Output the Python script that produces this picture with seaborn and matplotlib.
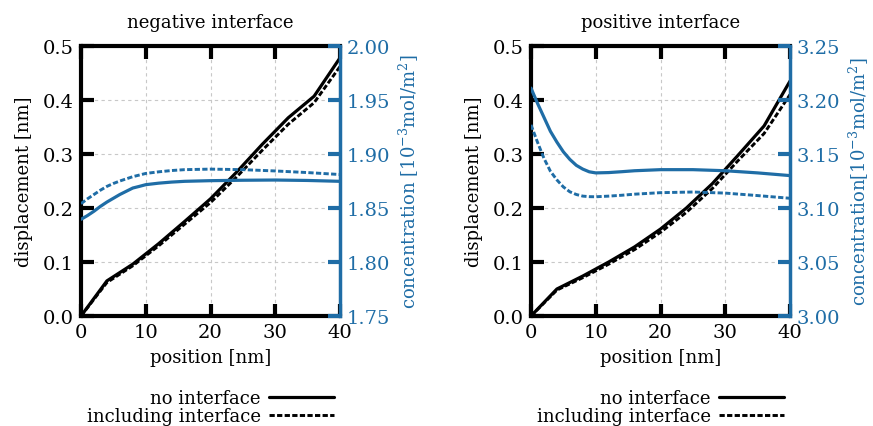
import matplotlib
matplotlib.use("Agg")
import matplotlib.pyplot as plt
import seaborn as sns
from matplotlib.lines import Line2D

sns.set_theme(style="white")
plt.rcParams['font.family'] = ['DejaVu Serif']
plt.rcParams['mathtext.fontset'] = 'dejavuserif'
plt.rcParams['text.color'] = 'black'
plt.rcParams['axes.labelcolor'] = 'black'
plt.rcParams['xtick.color'] = 'black'
plt.rcParams['ytick.color'] = 'black'

BLUE = "#1f6da6"

# displacement data
x_disp = [0, 4, 8, 12, 16, 20, 24, 28, 32, 36, 40]
neg_disp_no = [0, 0.065, 0.096, 0.134, 0.175, 0.217, 0.266, 0.318, 0.367, 0.407, 0.478]
neg_disp_inc = [0, 0.062, 0.093, 0.130, 0.170, 0.210, 0.257, 0.307, 0.355, 0.395, 0.462]
pos_disp_no = [0, 0.050, 0.074, 0.100, 0.128, 0.161, 0.200, 0.245, 0.298, 0.352, 0.435]
pos_disp_inc = [0, 0.048, 0.071, 0.096, 0.123, 0.155, 0.192, 0.236, 0.288, 0.338, 0.410]

# concentration data
x_conc = [0, 1, 2, 3, 4, 5, 6, 7, 8, 9, 10, 12, 14, 16, 20, 25, 30, 35, 40]
neg_conc_no = [1.8395, 1.843, 1.847, 1.8515, 1.8555, 1.859, 1.8625, 1.8655, 1.8685, 1.870,
               1.8716, 1.873, 1.874, 1.8747, 1.8753, 1.8757, 1.8759, 1.8755, 1.8747]
neg_conc_inc = [1.854, 1.8585, 1.8625, 1.8665, 1.870, 1.8727, 1.875, 1.877, 1.879, 1.8805,
                1.882, 1.8835, 1.8847, 1.8855, 1.886, 1.8855, 1.8843, 1.8828, 1.881]
pos_conc_no = [3.211, 3.197, 3.184, 3.171, 3.161, 3.152, 3.145, 3.1395, 3.136, 3.1335,
               3.1325, 3.1328, 3.1336, 3.1345, 3.1355, 3.1355, 3.1345, 3.1325, 3.130]
pos_conc_inc = [3.177, 3.161, 3.146, 3.134, 3.126, 3.1195, 3.115, 3.1125, 3.111, 3.1105,
                3.1104, 3.111, 3.1118, 3.1128, 3.1142, 3.1148, 3.1138, 3.1115, 3.109]

titles = ["negative interface", "positive interface"]
x_ticks = [0, 10, 20, 30, 40]
disp_ticks = [0.0, 0.1, 0.2, 0.3, 0.4, 0.5]
neg_conc_ticks = [1.75, 1.80, 1.85, 1.90, 1.95, 2.00]
pos_conc_ticks = [3.00, 3.05, 3.10, 3.15, 3.20, 3.25]
conc_labels = [r"concentration $[10^{-3}\mathrm{mol/m^2}]$",
               r"concentration$[10^{-3}\mathrm{mol/m^2}]$"]
legend_labels = ["no interface", "including interface"]

W, H = 873, 427
fig = plt.figure(figsize=(W / 100, H / 100), dpi=100)

panels = [
    (81, neg_disp_no, neg_disp_inc, neg_conc_no, neg_conc_inc, neg_conc_ticks),
    (531, pos_disp_no, pos_disp_inc, pos_conc_no, pos_conc_inc, pos_conc_ticks),
]
DASH = (0, (1.8, 0.8))
FS_T = 14
FS = 13
for i, (left_px, dno, dinc, cno, cinc, cticks) in enumerate(panels):
    ax = fig.add_axes([left_px / W, 1 - 317 / H, 259 / W, 270 / H])
    sns.lineplot(x=x_disp, y=dno, ax=ax, color="black", lw=2.3)
    sns.lineplot(x=x_disp, y=dinc, ax=ax, color="black", lw=2.1, linestyle=DASH)
    ax.set_xlim(0, 40)
    ax.set_ylim(0, 0.5)
    ax.set_xticks(x_ticks)
    ax.set_yticks(disp_ticks)
    ax.set_xticklabels([str(t) for t in x_ticks])
    ax.set_yticklabels([f"{t:.1f}" for t in disp_ticks])
    ax.grid(True, color="#c8c8c8", linestyle=(0, (3, 3)), lw=0.8)
    ax.set_axisbelow(True)
    for s in ["left", "top", "bottom"]:
        ax.spines[s].set_linewidth(3)
        ax.spines[s].set_color("black")
    ax.spines["right"].set_visible(False)
    ax.tick_params(axis="both", direction="in", length=9, width=3, colors="black",
                   labelsize=FS_T, top=True, bottom=True, left=True, right=False, pad=5)
    ax.set_xlabel("position [nm]", fontsize=FS, labelpad=5, color="black")
    ax.set_ylabel("displacement [nm]", fontsize=FS, labelpad=7, color="black")
    ax.set_title(titles[i], fontsize=FS, pad=14, color="black")

    ax2 = ax.twinx()
    sns.lineplot(x=x_conc, y=cno, ax=ax2, color=BLUE, lw=2.3)
    sns.lineplot(x=x_conc, y=cinc, ax=ax2, color=BLUE, lw=2.1, linestyle=DASH)
    ax2.set_ylim(cticks[0], cticks[-1])
    ax2.set_yticks(cticks)
    ax2.set_yticklabels([f"{t:.2f}" for t in cticks])
    for s in ["left", "top", "bottom"]:
        ax2.spines[s].set_visible(False)
    ax2.spines["right"].set_linewidth(2.5)
    ax2.spines["right"].set_color(BLUE)
    ax2.tick_params(axis="y", direction="in", length=9, width=3, colors=BLUE,
                    labelsize=FS_T, pad=5)
    ax2.set_ylabel(conc_labels[i], fontsize=FS, color=BLUE, labelpad=5)
    ax2.grid(False)

    handles = [Line2D([], [], color="black", lw=2.3),
               Line2D([], [], color="black", lw=2.1, linestyle=DASH)]
    leg = ax.legend(handles, legend_labels, loc="upper center", bbox_to_anchor=(0.5, -0.238),
                    frameon=False, markerfirst=False, fontsize=FS, handlelength=3.6,
                    handletextpad=0.45, labelspacing=0.0, borderpad=0)
    for t in leg.get_texts():
        t.set_color("black")

fig.savefig("out.png", dpi=100)
